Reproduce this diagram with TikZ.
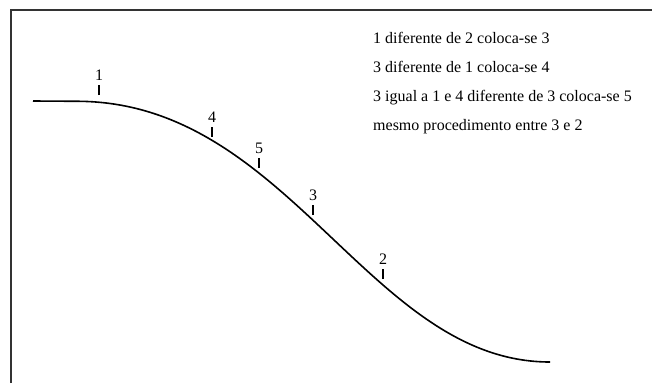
\documentclass[tikz,border=0pt]{standalone}
\usepackage{fontspec}
\setmainfont{Liberation Serif}
\usepackage{tikz}
\usetikzlibrary{positioning}

\begin{document}
\begin{tikzpicture}[
  x=1pt, y=-1pt,
  every node/.style={font=\fontsize{16}{19}\selectfont, inner sep=0pt},
  frame/.style={line width=2pt, black!80},
  curve/.style={line width=1.6pt},
  tick/.style={line width=1.6pt},
  note/.style={anchor=base west},
]
  \useasboundingbox (0,0) rectangle (652,383);

  % Moldura
  \draw[frame] (11,383) -- (11,10) -- (652,10);

  % Curva
  \draw[curve] (33,101) -- (80,101.3) .. controls (290,104) and (370,362) .. (550,362);

  % Marcas
  \coordinate (m1) at (99,90);
  \coordinate (m4) at (212,132);
  \coordinate (m5) at (259,163);
  \coordinate (m3) at (313,210);
  \coordinate (m2) at (383,274);
  \foreach \m in {m1,m4,m5,m3,m2}
    \draw[tick] ([yshift=-5pt]\m) -- ([yshift=5pt]\m);
  \node[above=9pt of m1] (l1) {1};
  \node[above=9pt of m4] (l4) {4};
  \node[above=9pt of m5] (l5) {5};
  \node[above=9pt of m3] (l3) {3};
  \node[above=9pt of m2] (l2) {2};

  % Texto
  \node[note] (t1) at (373,43) {1 diferente de 2 coloca-se 3};
  \node[note] (t2) at (373,72) {3 diferente de 1 coloca-se 4};
  \node[note] (t3) at (373,101) {3 igual a 1 e 4 diferente de 3 coloca-se 5};
  \node[note] (t4) at (373,130) {mesmo procedimento entre 3 e 2};
\end{tikzpicture}
\end{document}
